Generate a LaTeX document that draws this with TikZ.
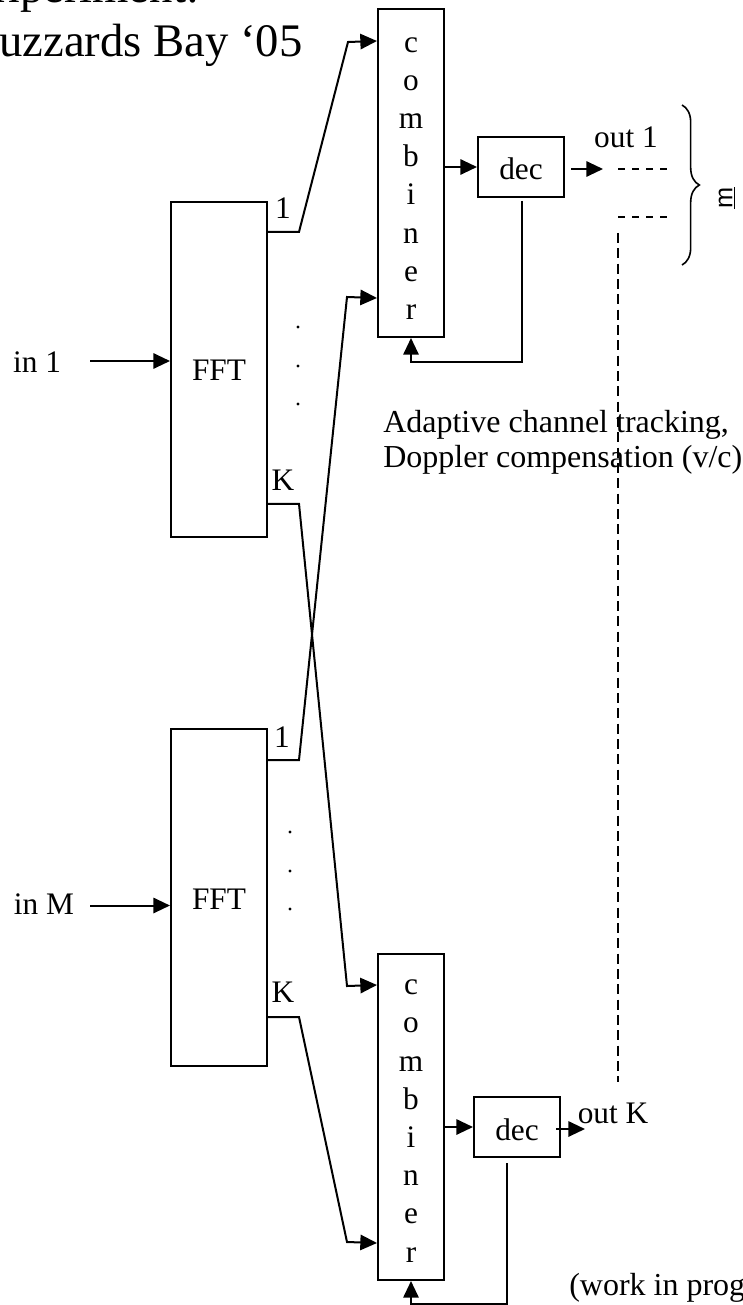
\documentclass[tikz,border=0pt]{standalone}
\usepackage{fontspec}
\setmainfont{Liberation Serif}
\newfontfamily\sansf{Liberation Sans}
\usetikzlibrary{calc,arrows.meta,decorations.pathreplacing}
\begin{document}
\begin{tikzpicture}[x=0.75pt,y=-0.75pt,
  wire/.style={line width=1.5pt},
  arr/.style={line width=1.5pt,-{Triangle[length=12.5pt,width=11.5pt]}},
  blk/.style={draw,line width=1.5pt,inner sep=0pt,rectangle},
  fftbox/.style={blk,minimum width=72pt,minimum height=251.5pt},
  combbox/.style={blk,minimum width=49.5pt,minimum height=245pt},
  decbox/.style={blk,minimum width=64.5pt,minimum height=45pt},
  lbl/.style={inner sep=0pt,font=\fontsize{23.5}{28}\selectfont},
  stack/.style={inner sep=0pt,align=center,font=\fontsize{23.5}{28.65}\selectfont},
  note/.style={inner sep=0pt,align=left,anchor=west,font=\fontsize{24}{26.25}\selectfont},
  dashwire/.style={line width=1pt,dash pattern=on 7.5pt off 4pt},
  dot/.style={fill=black}]
\path[use as bounding box] (0,0) rectangle (742,1305);
\clip (0,0) rectangle (742,1305);

% title
\node[inner sep=0pt,anchor=base west,font=\fontsize{35}{40}\selectfont] (title1) at (-32,3) {Experiment:};
\node[inner sep=0pt,anchor=base west,font=\fontsize{35}{40}\selectfont] (title2) at (-32,57) {Buzzards Bay ‘05};

% blocks
\node[fftbox] (fft1) at (219,369.5) {};
\node[lbl] (fft1t) at (219,370) {FFT};
\node[fftbox,minimum height=252.75pt] (fftm) at (219,897.5) {};
\node[lbl] (fftmt) at (219,899) {FFT};

\node[combbox,minimum height=246pt] (comb1) at (411,173) {};
\node[stack] (comb1t) at (411,178.5) {c\\o\\m\\b\\i\\n\\e\\r};
\node[combbox,minimum height=244.5pt] (comb2) at (411,1117) {};
\node[stack] (comb2t) at (411,1121) {c\\o\\m\\b\\i\\n\\e\\r};

\node[decbox] (dec1) at (521,167) {};
\node[lbl] (dec1t) at (521,169) {dec};
\node[decbox] (dec2) at (517,1127) {};
\node[lbl] (dec2t) at (517,1130) {dec};

% inputs
\node[lbl] (in1) at (37,362) {in 1};
\node[lbl] (inm) at (44,904) {in M};
\coordinate (in1s) at (90,361);
\coordinate (inms) at (90,905.5);
\draw[arr] (in1s) -- (in1s -| fft1.west);
\draw[arr] (inms) -- (inms -| fftm.west);

% branch labels and dots
\node[lbl] (f1one) at (283,208) {1};
\node[lbl] (f1k) at (283,480) {K};
\node[lbl] (fmone) at (282,737) {1};
\node[lbl] (fmk) at (283,992) {K};
\foreach \y in {327,366,404} \fill[dot] (298,\y) circle (1.7);
\foreach \y in {832,871,909} \fill[dot] (290,\y) circle (1.7);

% branch wiring between FFTs and combiners
\draw[arr] ($(fft1.north east)+(0,31)$) -- ++(31,0) -- (348,42) -- ($(comb1.north west)+(0,33)$);
\draw[arr] ($(fftm.north east)+(0,32)$) -- ++(31,0) -- (347,297) -- ($(comb1.south west)+(0,-40)$);
\draw[arr] ($(fft1.north east)+(0,303)$) -- ++(31,0) -- (347,986) -- ($(comb2.north west)+(0,32)$);
\draw[arr] ($(fftm.north east)+(0,289)$) -- ++(31,0) -- (347,1242) -- ($(comb2.south west)+(0,-38)$);

% combiner to decoder
\draw[arr] (comb1.east |- dec1.west) -- (dec1.west);
\draw[arr] (comb2.east |- dec2.west) -- (dec2.west);

% decision feedback
\draw[arr] ($(dec1.south)+(1,3)$) |- ($(comb1.south)+(0,24)$) -- (comb1.south);
\draw[arr] ($(dec2.south)+(-10,5)$) |- ($(comb2.south)+(0,23)$) -- (comb2.south);

% outputs
\draw[arr] ($(dec1.east)+(6,2)$) -- ++(32,0) coordinate (o1tip);
\draw[arr] ($(dec2.east)+(-5,2)$) -- ++(29,0) coordinate (oktip);
\node[lbl] (out1) at (626,137) {out 1};
\node[lbl] (outk) at (613,1113) {out K};

\coordinate (d1a) at (618,169);
\coordinate (d2a) at (618,217);
\coordinate (dva) at (618,233);
\coordinate (dvb) at (618,1082);
\draw[dashwire,dash pattern=on 5pt off 5.5pt] (d1a) -- ++(50,0);
\draw[dashwire,dash pattern=on 5pt off 5.5pt] (d2a) -- ++(50,0);
\draw[dashwire] (dva) -- (dvb);

% brace over the output group
\coordinate (bt) at (682,105);
\coordinate (bb) at (682,265);
\draw[line width=1.2pt,decorate,decoration={brace,amplitude=13pt}] (bt) -- (bb);
\node[inner sep=0pt,rotate=90,font=\sansf\fontsize{19}{22}\selectfont] (mlab) at (727,198) {\underline{m}};

% annotations
\node[note] (adapt) at (383,442.5) {Adaptive channel tracking,\\Doppler compensation (v/c)};
\node[note] (wip) at (569,1288) {(work in progress)};
\end{tikzpicture}
\end{document}
